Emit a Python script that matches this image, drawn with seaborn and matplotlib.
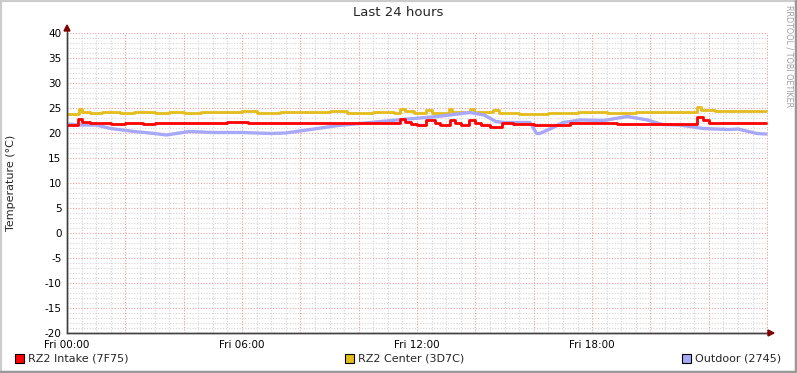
import matplotlib
matplotlib.use("Agg")
import matplotlib.pyplot as plt
import seaborn as sns
import pandas as pd
import numpy as np
from matplotlib.patches import Rectangle, Polygon

# ---- data (hours since Fri 00:00, temperature °C) ----
intake_h = [0.0, 0.37, 0.5, 0.8, 1.5, 2.0, 2.6, 3.0, 5.5, 6.2, 7.4, 8.6, 10.5, 11.42, 11.6, 11.8,
            12.0, 12.31, 12.6, 12.8, 13.13, 13.3, 13.5, 13.78, 14.0, 14.2, 14.5, 14.9, 15.3, 16.0,
            17.24, 18.85, 20.3, 21.6, 21.8, 22.0, 23.96]
intake_v = [21.6, 22.8, 22.3, 22.1, 21.9, 22.1, 21.9, 22.1, 22.2, 22.1, 22.0, 22.1, 22.0, 22.9, 22.3, 21.9,
            21.6, 22.6, 22.0, 21.6, 22.6, 22.0, 21.6, 22.6, 22.0, 21.7, 21.3, 22.1, 21.9, 21.7,
            22.1, 21.9, 21.9, 23.3, 22.6, 22.1, 22.1]

center_h = [0.0, 0.4, 0.5, 0.8, 1.2, 1.8, 2.3, 3.0, 3.5, 4.0, 4.6, 5.2, 6.0, 6.5, 7.3, 8.0, 9.0, 9.6,
            10.5, 11.2, 11.42, 11.6, 11.9, 12.3, 12.5, 13.1, 13.2, 13.8, 13.95, 14.6, 14.8, 15.5,
            16.5, 17.5, 18.5, 19.5, 20.5, 21.6, 21.75, 22.2, 23.0, 23.96]
center_v = [23.9, 24.9, 24.3, 24.1, 24.3, 24.0, 24.3, 24.1, 24.3, 24.0, 24.3, 24.2, 24.4, 24.1, 24.3, 24.2, 24.4, 24.1,
            24.2, 24.0, 24.9, 24.4, 24.1, 24.6, 24.1, 24.9, 24.2, 24.9, 24.3, 24.7, 24.0, 23.9,
            24.1, 24.2, 24.1, 24.3, 24.2, 25.3, 24.6, 24.4, 24.5, 24.5]

outdoor_h = [0.0, 0.45, 1.0, 1.5, 2.3, 3.0, 3.4, 4.2, 5.0, 6.0, 7.0, 7.5, 8.1, 9.3, 10.4, 11.5, 12.7,
             13.8, 14.3, 14.7, 15.0, 15.87, 16.1, 16.2, 16.6, 17.0, 17.6, 18.4, 19.2, 19.9, 20.4,
             21.0, 21.8, 22.7, 23.0, 23.65, 23.96]
outdoor_v = [21.8, 21.6, 21.6, 20.9, 20.3, 19.9, 19.6, 20.3, 20.1, 20.1, 19.9, 20.0, 20.5, 21.5, 22.1, 22.7, 23.3,
             24.1, 23.6, 22.3, 22.1, 22.1, 19.9, 19.9, 20.9, 22.1, 22.6, 22.5, 23.3, 22.6, 21.7,
             21.6, 20.9, 20.7, 20.8, 19.9, 19.8]

series_names = ["RZ2 Intake (7F75)", "RZ2 Center (3D7C)", "Outdoor (2745)"]
xtick_hours = [0, 6, 12, 18]
xtick_labels = ["Fri 00:00", "Fri 06:00", "Fri 12:00", "Fri 18:00"]
yticks = [-20, -15, -10, -5, 0, 5, 10, 15, 20, 25, 30, 35, 40]

colors = {"RZ2 Intake (7F75)": "#FF0000", "RZ2 Center (3D7C)": "#E4BC1C", "Outdoor (2745)": "#A8A8F8"}

sns.set_style("white")
plt.rcParams["font.family"] = ["DejaVu Sans"]

W, H = 797, 373
fig = plt.figure(figsize=(W / 100, H / 100), dpi=100)
fig.patch.set_facecolor("white")

x0, x1, ytop, ybot = 67, 768, 33, 333
ax = fig.add_axes([x0 / W, 1 - ybot / H, (x1 - x0) / W, (ybot - ytop) / H])
ax.set_facecolor("white")
XMAX = 24.03
ax.set_xlim(0, XMAX)
ax.set_ylim(-20, 40)

# grid
for h in np.arange(0, 24.01, 0.5):
    if abs(h % 2) < 1e-6:
        continue
    ax.axvline(h, color="#D4D4D4", lw=0.8, ls=(0, (1, 1.5)), zorder=0)
for v in range(-20, 41):
    if v % 5 == 0:
        continue
    ax.axhline(v, color="#D4D4D4", lw=0.8, ls=(0, (1, 1.5)), zorder=0)
for h in range(0, 25, 2):
    ax.axvline(h, color="#E8A0A0", lw=0.8, ls=(0, (1, 1.5)), zorder=0.5)
for v in range(-20, 41, 5):
    ax.axhline(v, color="#E8A0A0", lw=0.8, ls=(0, (1, 1.5)), zorder=0.5)

df_in = pd.DataFrame({"h": intake_h, "t": intake_v})
df_ce = pd.DataFrame({"h": center_h, "t": center_v})
df_out = pd.DataFrame({"h": outdoor_h, "t": outdoor_v})

sns.lineplot(data=df_out, x="h", y="t", ax=ax, color=colors[series_names[2]], lw=2.4, zorder=3)
sns.lineplot(data=df_ce, x="h", y="t", ax=ax, color=colors[series_names[1]], lw=2.0,
             drawstyle="steps-post", zorder=2)
sns.lineplot(data=df_in, x="h", y="t", ax=ax, color=colors[series_names[0]], lw=2.0,
             drawstyle="steps-post", zorder=4)

ax.set_xlim(0, XMAX)
ax.set_ylim(-20, 40)
ax.set_xlabel("")
ax.set_ylabel("")
for s in ["top", "right"]:
    ax.spines[s].set_visible(False)
for s in ["left", "bottom"]:
    ax.spines[s].set_color("#404040")
    ax.spines[s].set_linewidth(1.0)
ax.set_xticks(xtick_hours)
ax.set_xticklabels(xtick_labels)
ax.set_yticks(yticks)
ax.set_yticklabels([str(v) for v in yticks])
ax.tick_params(axis="both", labelsize=7.5, colors="#000000", length=3, width=0.8, direction="out",
               color="#404040", pad=1)
ax.tick_params(axis="x", pad=2)

# arrows
fig.patches.append(Polygon([[ (x0 - 3) / W, 1 - 31 / H], [(x0 + 3) / W, 1 - 31 / H], [x0 / W, 1 - 25 / H]],
                           closed=True, transform=fig.transFigure, color="#800000", zorder=10))
fig.patches.append(Polygon([[ 768 / W, 1 - 330 / H], [768 / W, 1 - 336 / H], [774 / W, 1 - 333 / H]],
                           closed=True, transform=fig.transFigure, color="#800000", zorder=10))
fig.lines.append(matplotlib.lines.Line2D([x0 / W, x0 / W], [1 - 333 / H, 1 - 31 / H],
                                         transform=fig.transFigure, color="#404040", lw=1.0))
fig.lines.append(matplotlib.lines.Line2D([x0 / W, 769 / W], [1 - 333 / H, 1 - 333 / H],
                                         transform=fig.transFigure, color="#404040", lw=1.0))

# texts
fig.text(398 / W, 1 - 13 / H, "Last 24 hours", ha="center", va="center", fontsize=9.5)
fig.text(11 / W, 1 - 183 / H, "Temperature (°C)", ha="center", va="center", rotation=90, fontsize=8)
fig.text(789 / W, 1 - 5 / H, "RRDTOOL / TOBI OETIKER", ha="center", va="top", rotation=270,
         fontsize=5.8, color="#A0A0A0")

# legend
leg_x = [15, 345, 682]
for name, lx in zip(series_names, leg_x):
    fig.patches.append(Rectangle((lx / W, 1 - 363 / H), 9 / W, 9 / H, transform=fig.transFigure,
                                 facecolor=colors[name], edgecolor="#000000", lw=0.8, zorder=10))
    fig.text((lx + 13) / W, 1 - 358.5 / H, name, ha="left", va="center", fontsize=8)

# border
fig.patches.append(Rectangle((0, 0), 1, 1, transform=fig.transFigure, fill=False,
                             edgecolor="#CCCCCC", lw=3, zorder=20))
fig.lines.append(matplotlib.lines.Line2D([1 - 1 / W, 1 - 1 / W], [0, 1], transform=fig.transFigure,
                                         color="#999999", lw=2.5, zorder=21))
fig.lines.append(matplotlib.lines.Line2D([0, 1], [1 / H, 1 / H], transform=fig.transFigure,
                                         color="#999999", lw=2.5, zorder=21))

fig.savefig("out.png", dpi=100, facecolor="white")
